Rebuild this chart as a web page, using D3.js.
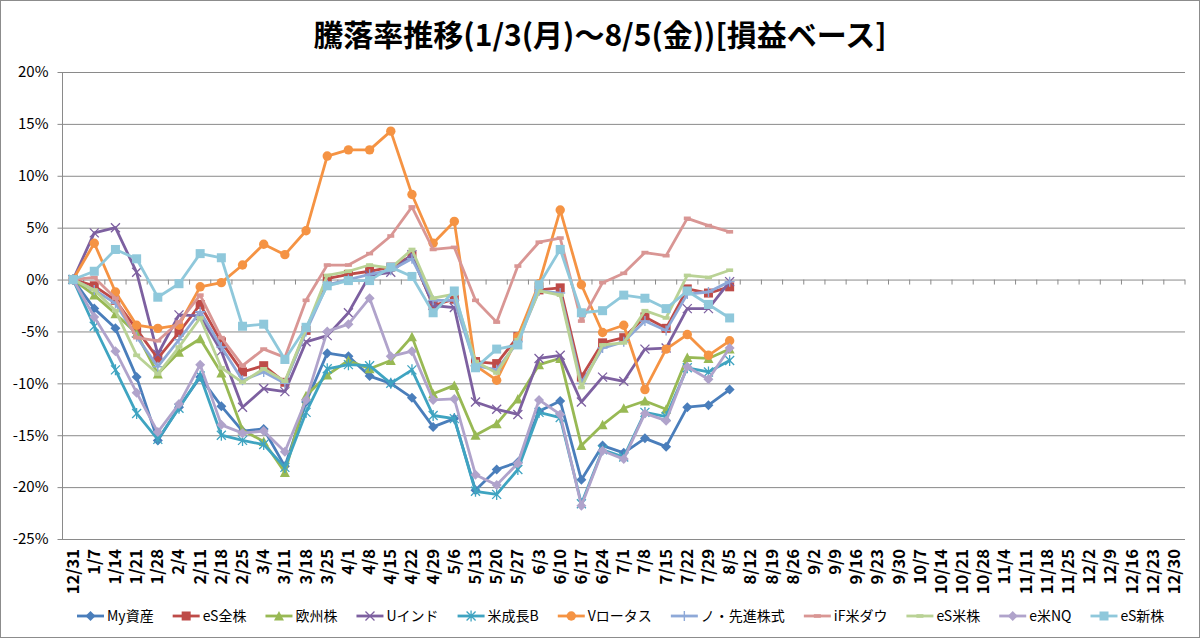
<!DOCTYPE html>
<html><head><meta charset="utf-8">
<script src="https://cdn.jsdelivr.net/npm/d3@7"></script>
<style>body{margin:0;background:#fff}svg{display:block}</style>
</head><body>
<svg id="chart" width="1200" height="638"></svg>
<script>
const categories = ["12/31","1/7","1/14","1/21","1/28","2/4","2/11","2/18","2/25","3/4","3/11","3/18","3/25","4/1","4/8","4/15","4/22","4/29","5/6","5/13","5/20","5/27","6/3","6/10","6/17","6/24","7/1","7/8","7/15","7/22","7/29","8/5","8/12","8/19","8/26","9/2","9/9","9/16","9/23","9/30","10/7","10/14","10/21","10/28","11/4","11/11","11/18","11/25","12/2","12/9","12/16","12/23","12/30"];
const yTicks = [20,15,10,5,0,-5,-10,-15,-20,-25];
const seriesNames = ["My資産","eS全株","欧州株","Uインド","米成長B","Vロータス","ノ・先進株式","iF米ダウ","eS米株","e米NQ","eS新株"];
const mySisan    = [0,-2.8,-4.7,-9.4,-15.5,-12.3,-9.4,-12.2,-14.6,-14.4,-18.0,-11.8,-7.1,-7.4,-9.3,-10.0,-11.4,-14.2,-13.4,-20.3,-18.3,-17.6,-12.7,-11.7,-19.3,-16.0,-16.7,-15.3,-16.1,-12.3,-12.1,-10.6];
const esZenkabu  = [0,-0.6,-2.0,-4.8,-7.6,-5.1,-2.4,-6.0,-8.9,-8.3,-9.9,-4.9,0.1,0.5,0.8,1.2,2.3,-2.5,-1.9,-7.9,-8.1,-5.5,-1.0,-0.8,-9.4,-6.1,-5.6,-3.6,-4.7,-0.9,-1.3,-0.7];
const oushukabu  = [0,-1.5,-3.3,-5.2,-9.1,-7.0,-5.7,-9.0,-14.5,-15.6,-18.6,-11.2,-9.2,-7.8,-8.6,-7.8,-5.5,-11.0,-10.2,-15.0,-13.9,-11.5,-8.2,-7.6,-16.0,-14.0,-12.4,-11.7,-12.5,-7.5,-7.6,-6.7];
const uIndo      = [0,4.5,5.0,0.7,-7.2,-3.4,-3.5,-6.9,-12.3,-10.5,-10.8,-6.0,-5.4,-3.2,0.4,0.7,2.4,-2.5,-2.7,-11.8,-12.5,-13.0,-7.6,-7.3,-11.8,-9.4,-9.8,-6.7,-6.6,-2.8,-2.8,-0.2];
const beiSeichou = [0,-4.5,-8.7,-12.9,-15.4,-12.4,-9.3,-15.0,-15.5,-15.9,-18.1,-12.8,-8.6,-8.2,-8.3,-10.0,-8.7,-13.1,-13.4,-20.4,-20.7,-18.3,-12.8,-13.3,-21.6,-16.4,-17.1,-12.8,-13.2,-8.5,-8.9,-7.8];
const vLotus     = [0,3.5,-1.2,-4.4,-4.7,-4.4,-0.7,-0.3,1.4,3.4,2.4,4.7,11.9,12.5,12.5,14.3,8.2,3.5,5.6,-8.3,-9.7,-5.5,-0.4,6.7,-0.5,-5.1,-4.4,-10.6,-6.7,-5.3,-7.3,-5.9];
const noSenshin  = [0,-1.0,-2.3,-5.5,-8.4,-5.8,-3.1,-6.5,-9.7,-8.9,-10.0,-5.0,-0.5,0.0,0.5,0.9,2.0,-2.0,-2.0,-8.3,-8.7,-6.0,-1.1,-1.3,-10.0,-6.6,-6.0,-4.0,-4.9,-1.4,-1.2,-0.2];
const ifBeiDow   = [0,0.2,-1.8,-5.6,-5.9,-4.1,-1.5,-5.6,-8.3,-6.7,-7.5,-2.0,1.4,1.4,2.5,4.2,7.0,2.9,3.1,-2.0,-4.1,1.3,3.6,4.0,-4.0,-0.3,0.6,2.6,2.3,5.9,5.2,4.6];
const esBeikabu  = [0,-1.0,-3.0,-7.3,-9.1,-6.5,-3.7,-8.5,-9.9,-8.6,-9.8,-4.8,0.4,0.8,1.4,1.1,2.9,-1.8,-1.4,-7.9,-9.0,-5.8,-1.1,-1.5,-10.4,-6.3,-6.1,-3.0,-3.7,0.4,0.2,0.9];
const eBeiNQ     = [0,-3.6,-6.9,-10.9,-14.7,-12.0,-8.2,-14.0,-14.8,-14.6,-16.6,-11.6,-5.0,-4.3,-1.8,-7.4,-6.9,-11.6,-11.5,-18.8,-19.8,-17.7,-11.6,-13.0,-21.8,-16.5,-17.3,-12.9,-13.6,-8.4,-9.6,-6.6];
const esShinkabu = [0,0.8,2.9,2.0,-1.7,-0.4,2.5,2.1,-4.5,-4.3,-7.7,-4.6,-0.6,-0.1,-0.1,1.2,0.3,-3.2,-1.1,-8.5,-6.7,-6.3,-0.5,2.9,-3.2,-3.0,-1.5,-1.8,-2.8,-1.1,-2.4,-3.7];

const seriesValues = [mySisan, esZenkabu, oushukabu, uIndo, beiSeichou, vLotus, noSenshin, ifBeiDow, esBeikabu, eBeiNQ, esShinkabu];
const colors = ["#4A7EBB","#BE4B48","#98B954","#7D60A0","#3FA4C1","#F59343","#8EA9D8","#D99694","#B9D295","#B0A3CB","#8FC8DB"];
const markerTypes = ["diamond","square","triangle","x","star","circle","plus","dash","dash","diamond","square"];

const svg = d3.select("#chart");
const W = 1200, H = 638;
const plot = {left: 62.5, right: 1185, top: 72, bottom: 539};

svg.append("rect").attr("x",0.5).attr("y",0.5).attr("width",W-1).attr("height",H-1)
  .attr("fill","#fff").attr("stroke","#8c8c8c").attr("stroke-width",1);

const x = d3.scaleBand().domain(categories).range([plot.left, plot.right]).paddingInner(0).paddingOuter(0);
const xc = c => x(c) + x.bandwidth()/2;
const y = d3.scaleLinear().domain([-25,20]).range([plot.bottom, plot.top]);

// title
svg.append("text").attr("x",600).attr("y",46).attr("text-anchor","middle")
  .attr("font-family","'Noto Sans CJK JP', sans-serif").attr("font-weight","bold")
  .attr("font-size",30).attr("fill","#000").text("騰落率推移(1/3(月)～8/5(金))[損益ベース]");

// gridlines
const yAxis = d3.axisLeft(y).tickValues(yTicks).tickSize(-(plot.right - plot.left)).tickPadding(8)
  .tickFormat(d => d + "%");
const gy = svg.append("g").attr("transform",`translate(${plot.left},0)`).call(yAxis);
gy.select(".domain").remove();
gy.selectAll(".tick line").attr("stroke","#8a8a8a").attr("stroke-width",1).attr("x1",-5);
gy.selectAll(".tick text").attr("x",-14).attr("font-family","'Noto Sans CJK JP', sans-serif")
  .attr("font-size",15).attr("fill","#000");
svg.append("line").attr("x1",plot.left).attr("x2",plot.left).attr("y1",plot.top).attr("y2",plot.bottom)
  .attr("stroke","#8a8a8a").attr("stroke-width",1);

// category axis at 0 with ticks between categories
const y0 = y(0);
const gx = svg.append("g");
gx.selectAll("line.tk").data(d3.range(categories.length + 1)).join("line")
  .attr("x1", i => plot.left + i * x.step()).attr("x2", i => plot.left + i * x.step())
  .attr("y1", y0).attr("y2", y0 + 5).attr("stroke","#8a8a8a").attr("stroke-width",1);
gx.selectAll("text").data(categories).join("text")
  .attr("transform", d => `translate(${xc(d)+5.5},${plot.bottom + 10}) rotate(-90)`)
  .attr("text-anchor","end")
  .attr("font-family","'Noto Sans CJK JP', sans-serif").attr("font-weight","bold")
  .attr("font-size",16.5).attr("fill","#000").text(d => d);

// marker helper
function drawMarker(g, type, color) {
  const s = 4.5;
  if (type === "diamond") g.append("path").attr("d",`M0,${-s-0.5}L${s+0.5},0L0,${s+0.5}L${-s-0.5},0Z`).attr("fill",color);
  else if (type === "square") g.append("rect").attr("x",-s).attr("y",-s).attr("width",2*s).attr("height",2*s).attr("fill",color);
  else if (type === "triangle") g.append("path").attr("d",`M0,${-s-0.5}L${s+0.5},${s}L${-s-0.5},${s}Z`).attr("fill",color);
  else if (type === "circle") g.append("circle").attr("r",s+0.2).attr("fill",color);
  else if (type === "x") g.append("path").attr("d",`M${-s},${-s}L${s},${s}M${-s},${s}L${s},${-s}`).attr("stroke",color).attr("stroke-width",1.3).attr("fill","none");
  else if (type === "star") g.append("path").attr("d",`M${-s},${-s}L${s},${s}M${-s},${s}L${s},${-s}M0,${-s-1}L0,${s+1}`).attr("stroke",color).attr("stroke-width",1.3).attr("fill","none");
  else if (type === "plus") g.append("path").attr("d",`M${-s-0.5},0L${s+0.5},0M0,${-s-0.5}L0,${s+0.5}`).attr("stroke",color).attr("stroke-width",1.4).attr("fill","none");
  else if (type === "dash") g.append("rect").attr("x",-3.5).attr("y",-1.8).attr("width",7).attr("height",3.6).attr("fill",color);
}

// series
const line = d3.line().x((d,i) => xc(categories[i])).y(d => y(d));
seriesValues.forEach((vals, si) => {
  const g = svg.append("g");
  g.append("path").attr("d", line(vals)).attr("fill","none").attr("stroke",colors[si])
    .attr("stroke-width",2.8).attr("stroke-linejoin","round").attr("stroke-linecap","round");
  vals.forEach((v,i) => {
    const mg = g.append("g").attr("transform",`translate(${xc(categories[i])},${y(v)})`);
    drawMarker(mg, markerTypes[si], colors[si]);
  });
});

// legend
let lx = 77;
const ly = 616;
seriesNames.forEach((name, si) => {
  const g = svg.append("g").attr("transform",`translate(${lx},${ly})`);
  g.append("line").attr("x1",0).attr("x2",27).attr("y1",0).attr("y2",0)
    .attr("stroke",colors[si]).attr("stroke-width",2.8);
  const mg = g.append("g").attr("transform","translate(13.5,0)");
  drawMarker(mg, markerTypes[si], colors[si]);
  const t = g.append("text").attr("x",30).attr("y",5).attr("font-family","'Noto Sans CJK JP', sans-serif")
    .attr("font-size",14).attr("fill","#000").text(name);
  lx += 30 + t.node().getComputedTextLength() + 19;
});
</script>
</body></html>
